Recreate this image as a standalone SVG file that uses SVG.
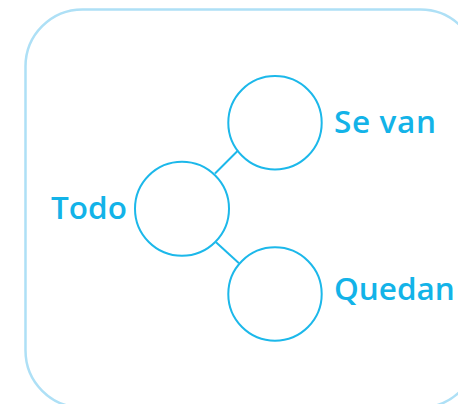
<svg xmlns="http://www.w3.org/2000/svg" width="458" height="404" viewBox="0 0 458 404">
<style>
.node{fill:#ffffff;stroke:#1cb8ea;stroke-width:2}
.lbl{font-family:"Open Sans","Noto Sans",sans-serif;font-weight:600;font-size:31.5px;fill:#13b3e8}
.edge{stroke:#1cb8ea;stroke-width:2;fill:none}
</style>
<rect x="0" y="0" width="458" height="404" fill="#ffffff"/>
<rect id="frame" x="25.5" y="9.5" width="452" height="398" rx="57" ry="57" fill="none" stroke="#aee0f6" stroke-width="2.5"/>
<g id="connectors">
<line class="edge" x1="215" y1="173.5" x2="237.5" y2="151"/>
<line class="edge" x1="216" y1="242.3" x2="239" y2="263.3"/>
</g>
<g id="todo">
<circle class="node" cx="182" cy="208.7" r="47"/>
<text class="lbl" x="51" y="219">Todo</text>
</g>
<g id="se-van">
<circle class="node" cx="275" cy="122.7" r="46.7"/>
<text class="lbl" x="334" y="132.7" textLength="102" lengthAdjust="spacing">Se van</text>
</g>
<g id="quedan">
<circle class="node" cx="275" cy="294" r="46.7"/>
<text class="lbl" x="334" y="300">Quedan</text>
</g>
</svg>
